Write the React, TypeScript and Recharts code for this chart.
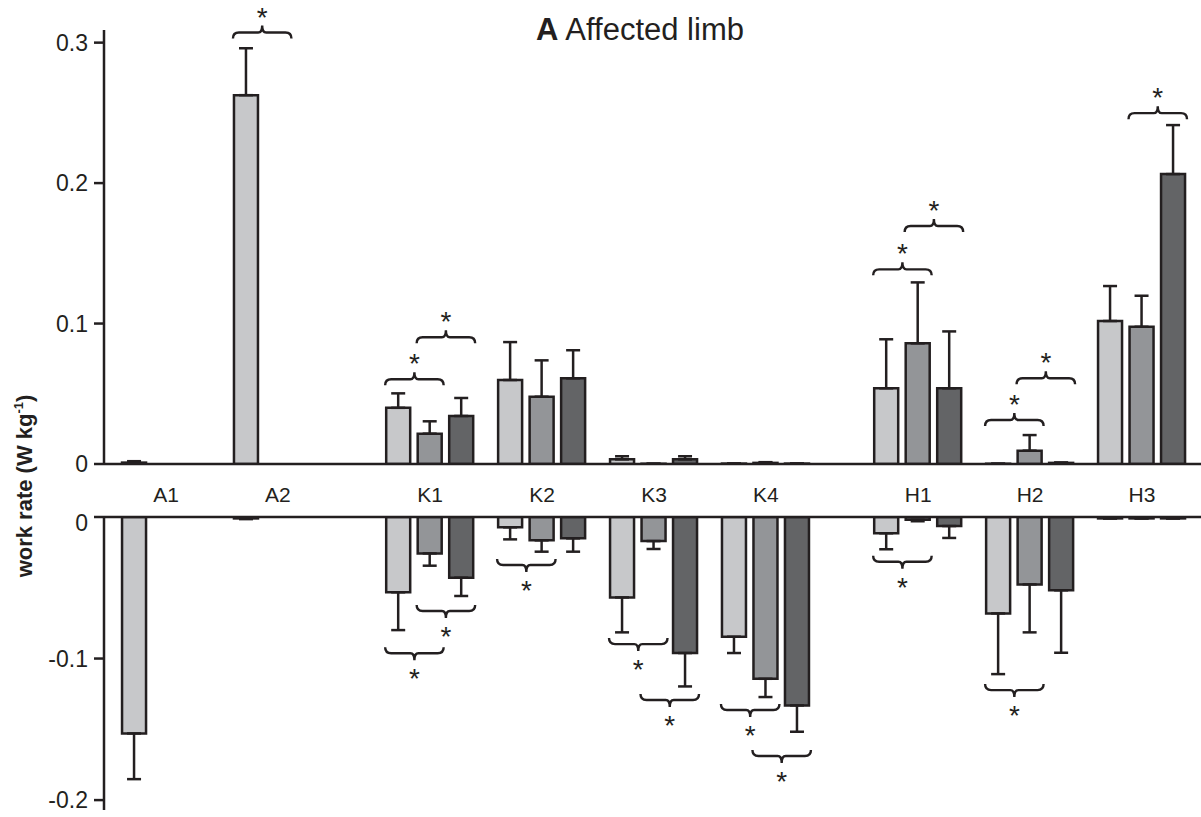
import React from "react";
import { BarChart, Bar, XAxis, YAxis, ErrorBar, ReferenceDot } from "recharts";

// categories and joint grouping (ankle, knee, hip)
const categories = ["A1", "A2", "K1", "K2", "K3", "K4", "H1", "H2", "H3"];
const joints = ["A", "A", "K", "K", "K", "K", "H", "H", "H"];

// positive work (upper panel), mean and SD
const posLight = [0.001, 0.2626, 0.04, 0.0598, 0.0033, 0.0003, 0.0539, 0.0002, 0.1018];
const posLightErr = [0.001, 0.0334, 0.0103, 0.027, 0.0022, 0, 0.0349, 0, 0.0249];
const posMid = [null, null, 0.0216, 0.0479, 0.0002, 0.0008, 0.0859, 0.0095, 0.0977];
const posMidErr = [null, null, 0.0088, 0.0259, 0, 0.0005, 0.0434, 0.0111, 0.0221];
const posDark = [null, null, 0.0342, 0.061, 0.0033, 0.0003, 0.0539, 0.0008, 0.2064];
const posDarkErr = [null, null, 0.0128, 0.02, 0.0022, 0, 0.0405, 0.0003, 0.0349];

// negative work (lower panel), mean and SD
const negLight = [-0.1529, -0.001, -0.0532, -0.0073, -0.0568, -0.0846, -0.0115, -0.0681, -0.001];
const negLightErr = [0.0323, 0.0005, 0.0267, 0.0085, 0.0247, 0.0115, 0.0113, 0.0429, 0];
const negMid = [null, null, -0.0257, -0.0165, -0.017, -0.1143, -0.002, -0.0476, -0.001];
const negMidErr = [null, null, 0.0087, 0.008, 0.0056, 0.0129, 0.001, 0.0339, 0];
const negDark = [null, null, -0.0429, -0.0151, -0.0961, -0.1331, -0.0064, -0.0518, -0.001];
const negDarkErr = [null, null, 0.0129, 0.0094, 0.0236, 0.0186, 0.0084, 0.0441, 0];

// significance braces: category, pair (0 = light/mid, 1 = mid/dark), level in data units
const topSig = [
  { cat: "A2", pair: 0, y: 0.3072 },
  { cat: "K1", pair: 0, y: 0.0603 },
  { cat: "K1", pair: 1, y: 0.0902 },
  { cat: "H1", pair: 0, y: 0.1386 },
  { cat: "H1", pair: 1, y: 0.1694 },
  { cat: "H2", pair: 0, y: 0.0313 },
  { cat: "H2", pair: 1, y: 0.061 },
  { cat: "H3", pair: 1, y: 0.2498 },
];
const bottomSig = [
  { cat: "K1", pair: 1, y: -0.0664 },
  { cat: "K1", pair: 0, y: -0.0963 },
  { cat: "K2", pair: 0, y: -0.0339 },
  { cat: "K3", pair: 0, y: -0.0898 },
  { cat: "K3", pair: 1, y: -0.1293 },
  { cat: "K4", pair: 0, y: -0.1364 },
  { cat: "K4", pair: 1, y: -0.1689 },
  { cat: "H1", pair: 0, y: -0.0316 },
  { cat: "H2", pair: 0, y: -0.1223 },
];

const INK = "#231f20";
const FONT = "'Liberation Sans', Arial, Helvetica, sans-serif";
const fills = ["#c7c8ca", "#939598", "#636466"];
const BAR = 24;
const GAP = 7.5;
const STEP = BAR + GAP;
const JOINT_GAP = 0.36;
const X_DOMAIN: [number, number] = [-0.554, 9.247];

const jointOrder = ["A", "K", "H"];
const xPos = categories.map((_, i) => i + jointOrder.indexOf(joints[i]) * JOINT_GAP);
const xOf = (cat: string) => xPos[categories.indexOf(cat)];

const errUp = (v: number | null, e: number | null) => (v == null || e == null ? null : [0, e]);
const errDown = (v: number | null, e: number | null) => (v == null || e == null ? null : [e, 0]);

const topData = categories.map((name, i) => ({
  name,
  x: xPos[i],
  s0: posLight[i], s0e: errUp(posLight[i], posLightErr[i]),
  s1: posMid[i], s1e: errUp(posMid[i], posMidErr[i]),
  s2: posDark[i], s2e: errUp(posDark[i], posDarkErr[i]),
}));
const bottomData = categories.map((name, i) => ({
  name,
  x: xPos[i],
  s0: negLight[i], s0e: errDown(negLight[i], negLightErr[i]),
  s1: negMid[i], s1e: errDown(negMid[i], negMidErr[i]),
  s2: negDark[i], s2e: errDown(negDark[i], negDarkErr[i]),
}));

const fmt = (v: number) => (v === 0 ? "0" : String(v));

// curly brace; dir = 1 -> nub points up (upper panel), -1 -> nub points down
function Brace(props: any) {
  const { cx, cy, pair, dir } = props;
  if (cx == null || cy == null) return null;
  const c = cx + (pair === 0 ? -STEP / 2 : STEP / 2);
  const hw = STEP / 2 + BAR / 2 + 1.5;
  const e = 6 * dir;
  const n = 7 * dir;
  const d =
    `M${c - hw},${cy + e} Q${c - hw},${cy} ${c - hw + 6},${cy} L${c - 4},${cy} ` +
    `Q${c},${cy} ${c},${cy - n} Q${c},${cy} ${c + 4},${cy} L${c + hw - 6},${cy} ` +
    `Q${c + hw},${cy} ${c + hw},${cy + e}`;
  const starY = dir === 1 ? cy - 6 : cy + 35;
  return (
    <g>
      <path d={d} fill="none" stroke={INK} strokeWidth={2.4} />
      <text x={c} y={starY} textAnchor="middle" fontSize={28} fontFamily={FONT} fill={INK}>*</text>
    </g>
  );
}

function series() {
  return [0, 1, 2].map((k) => (
    <Bar
      key={k}
      dataKey={`s${k}`}
      fill={fills[k]}
      stroke={INK}
      strokeWidth={2.5}
      barSize={BAR}
      isAnimationActive={false}
    >
      <ErrorBar dataKey={`s${k}e`} direction="y" width={7} stroke={INK} strokeWidth={2.5} />
    </Bar>
  ));
}

export default function App() {
  return (
    <div style={{ position: "absolute", left: 0, top: 0, width: 1201, height: 817, background: "#fff", fontFamily: FONT }}>
      <div style={{ position: "absolute", left: 0, top: 0 }}>
        <BarChart width={1201} height={520} data={topData} barGap={GAP} margin={{ top: 30, right: 0, bottom: 0, left: 0 }}>
          <XAxis
            dataKey="x"
            type="number"
            domain={X_DOMAIN}
            ticks={xPos}
            tickFormatter={(v: number) => categories[xPos.indexOf(v)] ?? ""}
            height={56}
            tickLine={false}
            tickSize={0}
            tickMargin={23}
            axisLine={{ stroke: INK, strokeWidth: 2.5 }}
            tick={{ fontSize: 21, fill: INK, fontFamily: FONT }}
            allowDataOverflow
          />
          <YAxis
            type="number"
            domain={[0, 0.309]}
            ticks={[0, 0.1, 0.2, 0.3]}
            tickFormatter={fmt}
            width={104}
            tickSize={10}
            tickMargin={6}
            axisLine={{ stroke: INK, strokeWidth: 2.5 }}
            tickLine={{ stroke: INK, strokeWidth: 2.5 }}
            tick={{ fontSize: 23, fill: INK, fontFamily: FONT }}
            allowDataOverflow
          />
          {series()}
          {topSig.map((s, i) => (
            <ReferenceDot
              key={i}
              x={xOf(s.cat)}
              y={s.y}
              ifOverflow="visible"
              shape={(p: any) => <Brace {...p} pair={s.pair} dir={1} />}
            />
          ))}
        </BarChart>
      </div>
      <div style={{ position: "absolute", left: 0, top: 510 }}>
        <BarChart width={1201} height={307} data={bottomData} barGap={GAP} margin={{ top: 0, right: 0, bottom: 7, left: 0 }}>
          <XAxis
            dataKey="x"
            type="number"
            orientation="top"
            domain={X_DOMAIN}
            ticks={xPos}
            height={7}
            tick={false}
            tickLine={false}
            axisLine={{ stroke: INK, strokeWidth: 2.5 }}
            allowDataOverflow
          />
          <YAxis
            type="number"
            domain={[-0.207, 0]}
            ticks={[-0.2, -0.1, 0]}
            tickFormatter={fmt}
            width={104}
            tickSize={10}
            tickMargin={6}
            axisLine={{ stroke: INK, strokeWidth: 2.5 }}
            tickLine={{ stroke: INK, strokeWidth: 2.5 }}
            tick={{ fontSize: 23, fill: INK, fontFamily: FONT }}
            allowDataOverflow
          />
          {series()}
          {bottomSig.map((s, i) => (
            <ReferenceDot
              key={i}
              x={xOf(s.cat)}
              y={s.y}
              ifOverflow="visible"
              shape={(p: any) => <Brace {...p} pair={s.pair} dir={-1} />}
            />
          ))}
        </BarChart>
      </div>
      <svg width={1201} height={817} style={{ position: "absolute", left: 0, top: 0, pointerEvents: "none" }}>
        <text x={640} y={40} textAnchor="middle" fontSize={31} fontFamily={FONT} fill={INK}>
          <tspan fontWeight="bold">A</tspan>
          <tspan> Affected limb</tspan>
        </text>
        <text
          x={32}
          y={486}
          transform="rotate(-90 32 486)"
          textAnchor="middle"
          fontSize={22}
          fontWeight="bold"
          fontFamily={FONT}
          fill={INK}
        >
          work rate (W kg<tspan fontSize={13} dy={-9}>-1</tspan>
          <tspan dy={9}>)</tspan>
        </text>
      </svg>
    </div>
  );
}
